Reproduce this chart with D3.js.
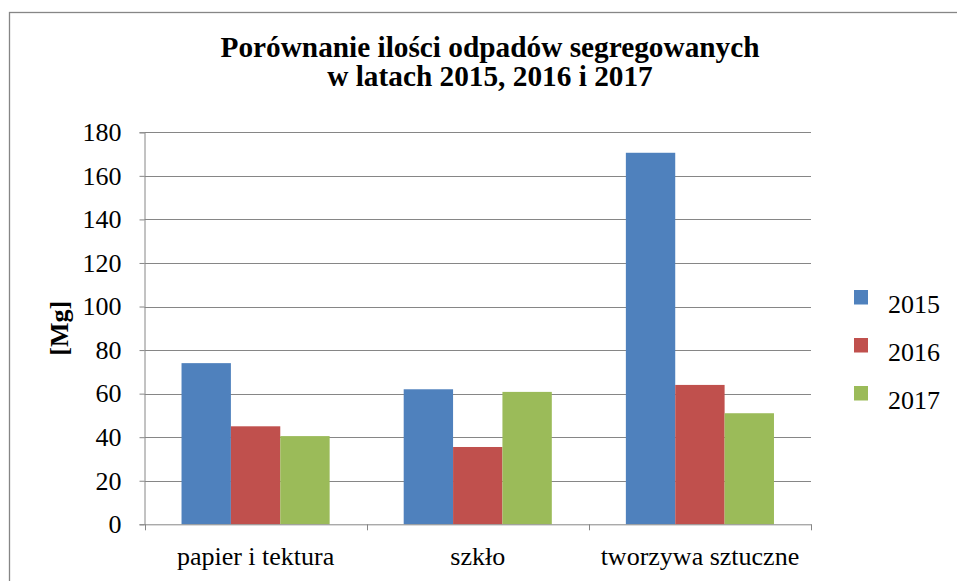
<!DOCTYPE html>
<html>
<head>
<meta charset="utf-8">
<script src="https://cdn.jsdelivr.net/npm/d3@7"></script>
<style>
  body { margin: 0; background: #fff; }
  svg text { font-family: "Liberation Serif", "Times New Roman", serif; fill: #000; }
</style>
</head>
<body>
<script>
// chart data
var categories = ["papier i tektura", "szkło", "tworzywa sztuczne"];
var years = ["2015", "2016", "2017"];
var values2015 = [74, 62, 170.6];
var values2016 = [45, 35.5, 64];
var values2017 = [40.5, 60.8, 51];
var yTicks = [0, 20, 40, 60, 80, 100, 120, 140, 160, 180];
var colors = ["#4F81BD", "#C0504D", "#9BBB59"];

var seriesValues = [values2015, values2016, values2017];

var width = 957,
    height = 581;

var svg = d3.select("body")
    .append("svg")
    .attr("width", width)
    .attr("height", height);

//chart border (runs off the right and bottom edges)
svg.append("rect")
    .attr("x", 9.5)
    .attr("y", 12.5)
    .attr("width", 980)
    .attr("height", 620)
    .attr("fill", "#fff")
    .attr("stroke", "#868686")
    .attr("stroke-width", 1.3);

var plot = {left: 144.5, right: 811, top: 132.3, bottom: 524.3};

var x0 = d3.scaleBand()
    .domain(categories)
    .range([plot.left, plot.right])
    .padding(0);

var x1 = d3.scaleBand()
    .domain(years)
    .range([0, x0.bandwidth()])
    .paddingInner(0)
    .paddingOuter(0.75);

var y = d3.scaleLinear()
    .domain([0, 180])
    .range([plot.bottom, plot.top]);

//gridlines
svg.append("g")
    .selectAll("line")
    .data(yTicks.filter(function(d){ return d > 0; }))
    .enter()
    .append("line")
    .attr("x1", plot.left)
    .attr("x2", plot.right)
    .attr("y1", function(d){ return Math.round(y(d)) + 0.5; })
    .attr("y2", function(d){ return Math.round(y(d)) + 0.5; })
    .attr("stroke", "#868686")
    .attr("stroke-width", 1);

//bars
var groups = svg.append("g")
    .selectAll("g")
    .data(categories)
    .enter()
    .append("g")
    .attr("transform", function(d){ return "translate(" + x0(d) + ",0)"; });

groups.selectAll("rect")
    .data(function(d, i){
        return years.map(function(yr, j){ return {year: yr, value: seriesValues[j][i], color: colors[j]}; });
    })
    .enter()
    .append("rect")
    .attr("x", function(d){ return x1(d.year); })
    .attr("width", x1.bandwidth())
    .attr("y", function(d){ return y(d.value); })
    .attr("height", function(d){ return y(0) - y(d.value); })
    .attr("fill", function(d){ return d.color; });

//y axis
var yAxis = d3.axisLeft(y)
    .tickValues(yTicks)
    .tickSize(5)
    .tickPadding(18)
    .tickFormat(d3.format("d"));

var yG = svg.append("g")
    .attr("transform", "translate(" + plot.left + ",0)")
    .call(yAxis);
yG.attr("font-family", null);
yG.select(".domain").attr("stroke", "#868686");
yG.selectAll(".tick line").attr("stroke", "#868686");
yG.selectAll(".tick text")
    .attr("font-size", 26)
    .attr("fill", "#000");

//x axis
var xAxis = d3.axisBottom(x0)
    .tickSize(0)
    .tickPadding(22);

var xG = svg.append("g")
    .attr("transform", "translate(0," + plot.bottom + ")")
    .call(xAxis);
xG.attr("font-family", null);
xG.select(".domain").attr("stroke", "#868686");
xG.selectAll(".tick text")
    .attr("font-size", 26)
    .attr("fill", "#000");

//category boundary ticks
svg.append("g")
    .selectAll("line")
    .data([0, 1, 2, 3])
    .enter()
    .append("line")
    .attr("x1", function(d){ return Math.round(plot.left + d * x0.step()) + 0.5; })
    .attr("x2", function(d){ return Math.round(plot.left + d * x0.step()) + 0.5; })
    .attr("y1", plot.bottom)
    .attr("y2", plot.bottom + 6)
    .attr("stroke", "#868686");

//axis title
svg.append("text")
    .attr("transform", "translate(68," + ((plot.top + plot.bottom) / 2) + ") rotate(-90)")
    .attr("text-anchor", "middle")
    .attr("font-size", 26)
    .attr("font-weight", "bold")
    .text("[Mg]");

//chart title
var title = svg.append("text")
    .attr("text-anchor", "middle")
    .attr("font-size", 29.3)
    .attr("font-weight", "bold");
title.append("tspan").attr("x", 490).attr("y", 57).text("Porównanie ilości odpadów segregowanych");
title.append("tspan").attr("x", 490).attr("y", 86).text("w latach 2015, 2016 i 2017");

//legend
var legend = svg.append("g")
    .selectAll("g")
    .data(years)
    .enter()
    .append("g")
    .attr("transform", function(d, i){ return "translate(854," + (290 + i * 48) + ")"; });

legend.append("rect")
    .attr("width", 14)
    .attr("height", 14.5)
    .attr("fill", function(d, i){ return colors[i]; });

legend.append("text")
    .attr("x", 34)
    .attr("y", 23.3)
    .attr("font-size", 26)
    .text(function(d){ return d; });
</script>
</body>
</html>
